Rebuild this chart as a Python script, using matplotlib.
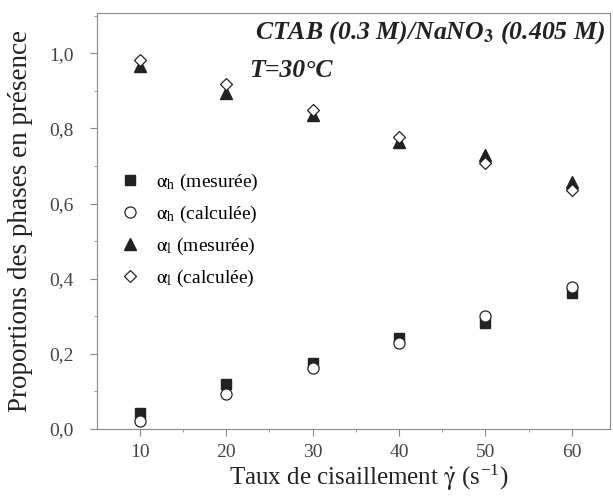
import matplotlib
matplotlib.use('Agg')
import matplotlib.pyplot as plt
from matplotlib.ticker import MultipleLocator, FuncFormatter

# Data
shear_rate = [10, 20, 30, 40, 50, 60]
alpha_h_mes = [0.043, 0.120, 0.176, 0.243, 0.283, 0.363]
alpha_h_calc = [0.021, 0.093, 0.163, 0.229, 0.301, 0.378]
alpha_l_mes = [0.965, 0.893, 0.835, 0.763, 0.728, 0.656]
alpha_l_calc = [0.983, 0.918, 0.848, 0.776, 0.709, 0.637]

plt.rcParams['font.family'] = ['Liberation Serif', 'DejaVu Serif']
plt.rcParams['mathtext.fontset'] = 'stix'

fig = plt.figure(figsize=(6.13, 5.0), dpi=100)
ax = fig.add_axes([0.159, 0.142, 0.836, 0.832])

ax.plot(shear_rate, alpha_h_mes, 's', color='#222222', markersize=7.5, linestyle='none',
        label=r'$\mathrm{\alpha}_{\rm h}$ (mesurée)')
ax.plot(shear_rate, alpha_h_calc, 'o', markerfacecolor='white', markeredgecolor='#222222',
        markersize=8, markeredgewidth=0.9, linestyle='none', label=r'$\mathrm{\alpha}_{\rm h}$ (calculée)')
ax.plot(shear_rate, alpha_l_mes, '^', color='#222222', markersize=8.5, linestyle='none',
        label=r'$\mathrm{\alpha}_{\rm l}$ (mesurée)')
ax.plot(shear_rate, alpha_l_calc, 'D', markerfacecolor='white', markeredgecolor='#222222',
        markersize=6.5, markeredgewidth=0.9, linestyle='none', label=r'$\mathrm{\alpha}_{\rm l}$ (calculée)')

ax.set_xlim(5.1, 64.4)
ax.set_ylim(0, 1.107)
ax.xaxis.set_major_locator(MultipleLocator(10))
ax.xaxis.set_minor_locator(MultipleLocator(5))
ax.yaxis.set_major_locator(MultipleLocator(0.2))
ax.yaxis.set_minor_locator(MultipleLocator(0.1))
ax.yaxis.set_major_formatter(FuncFormatter(lambda v, p: f'{v:.1f}'.replace('.', ',')))

for s in ax.spines.values():
    s.set_color('#888888')
    s.set_linewidth(0.8)
ax.tick_params(which='both', direction='out', color='#888888', labelcolor='#444444', labelsize=14)
ax.tick_params(which='major', length=5)
ax.tick_params(which='minor', length=2.5)
ax.tick_params(axis='y', pad=12)
ax.tick_params(axis='x', pad=6)

ax.set_xlabel(r'Taux de cisaillement $\dot{\mathrm{\gamma}}$ (s$^{\mathregular{-1}}$)', fontsize=18,
              color='#222222')
ax.xaxis.set_label_coords(0.53, -0.08)
ax.set_ylabel('Proportions des phases en présence', fontsize=19.5, color='#222222', labelpad=12)

ax.text(0.99, 0.985, r'CTAB (0.3 M)/NaNO$_{\mathbf{3}}$ (0.405 M)', transform=ax.transAxes,
        ha='right', va='top', fontsize=18.5, fontweight='bold', fontstyle='italic', color='#222222')
ax.text(0.295, 0.89, 'T=30°C', transform=ax.transAxes,
        ha='left', va='top', fontsize=18.5, fontweight='bold', fontstyle='italic', color='#222222')

ax.legend(loc='upper left', bbox_to_anchor=(0.0, 0.66), frameon=False, fontsize=14,
          handletextpad=0.6, labelspacing=0.55, handlelength=1.5)

fig.savefig('out.png', dpi=100)
